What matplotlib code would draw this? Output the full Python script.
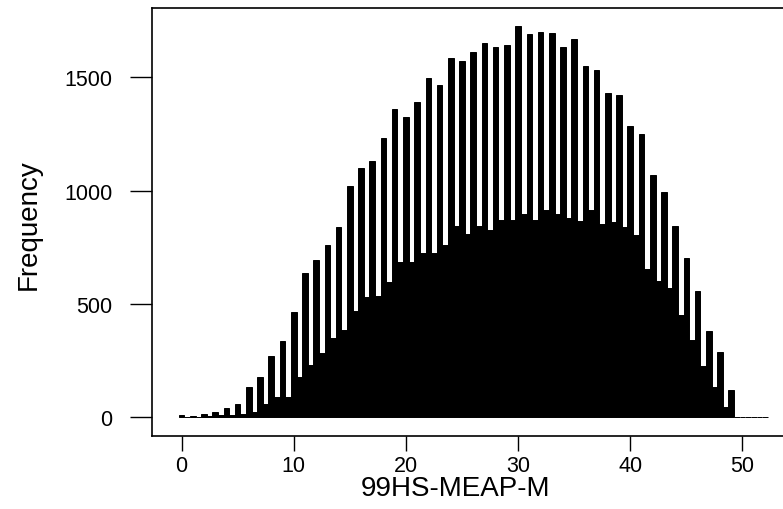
import matplotlib
matplotlib.use("Agg")
import matplotlib.pyplot as plt

# Histogram of 99HS-MEAP-M scores, bins of width 0.5
# counts for whole-number scores 0..49
whole_scores = list(range(0, 50))
whole_counts = [10, 7, 15, 22, 40, 59, 133, 176, 269, 338,
                463, 636, 693, 760, 840, 1022, 1101, 1132, 1232, 1362,
                1325, 1393, 1498, 1467, 1584, 1573, 1610, 1653, 1635, 1641,
                1728, 1690, 1701, 1696, 1635, 1670, 1551, 1534, 1430, 1422,
                1287, 1250, 1070, 995, 845, 703, 559, 379, 290, 120]

# counts for half-point scores 0.5..48.5
half_scores = [k + 0.5 for k in range(0, 49)]
half_counts = [3, 3, 5, 8, 10, 16, 22, 59, 88, 88,
               176, 231, 282, 350, 387, 468, 529, 537, 598, 685,
               685, 723, 723, 760, 845, 809, 845, 828, 870, 870,
               897, 870, 915, 897, 878, 866, 915, 853, 860, 840,
               804, 654, 603, 569, 451, 342, 228, 132, 47]

# empty bins at the top of the range
tail_scores = [49.5, 50.0, 50.5, 51.0, 51.5, 52.0]
tail_counts = [0, 0, 0, 0, 0, 0]

BIN_W = 0.5
W, H = 783, 510

plt.rcParams['font.family'] = ['Liberation Sans', 'DejaVu Sans']

fig = plt.figure(figsize=(W / 100, H / 100), dpi=100)
fig.patch.set_facecolor('white')

# axes box in pixel terms
left, right, top, bottom = 151.5, 783.0, 9.3, 436.7
ax = fig.add_axes([left / W, 1 - bottom / H, (right - left) / W, (bottom - top) / H])

# merge bins and draw them left to right like R's hist
bins = sorted(zip(whole_scores + half_scores + tail_scores,
                  whole_counts + half_counts + tail_counts))
xs = [b[0] for b in bins]
ys = [b[1] for b in bins]
ax.bar(xs, ys, width=BIN_W, align='center', color='black',
       edgecolor='black', linewidth=0.7)

ax.set_xlim(-2.674, 53.61)
ax.set_ylim(-81.2, 1804.5)

ax.set_xticks([0, 10, 20, 30, 40, 50])
ax.set_yticks([0, 500, 1000, 1500])
ax.tick_params(axis='y', length=16, width=1.0, pad=12, labelsize=15.5)
ax.tick_params(axis='x', length=11, width=1.0, pad=3, labelsize=15.5)

for s in ['left', 'bottom', 'top']:
    ax.spines[s].set_linewidth(1.2)
ax.spines['right'].set_visible(False)

fig.text(29 / W, 1 - 225 / H, 'Frequency', rotation=90,
         ha='center', va='center', fontsize=20)
fig.text(456 / W, 1 - 489 / H, '99HS-MEAP-M',
         ha='center', va='center', fontsize=20)

fig.savefig('out.png', dpi=100, facecolor='white')
